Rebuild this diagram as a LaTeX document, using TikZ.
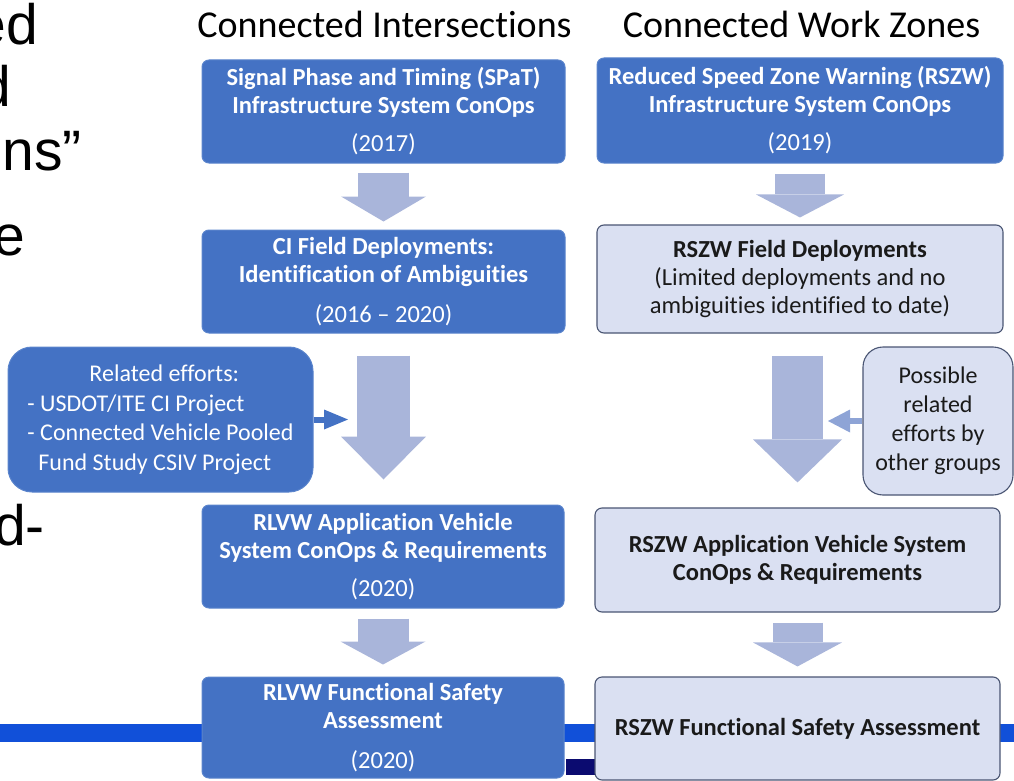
\documentclass[tikz,border=0pt]{standalone}
\usepackage{fontspec}
\setmainfont{Carlito}[Ligatures={NoCommon}]
\newfontfamily\arialf{Liberation Sans}
\usetikzlibrary{arrows.meta}
\definecolor{dkfill}{HTML}{4472C4}
\definecolor{dkedge}{HTML}{5A84CC}
\definecolor{ltfill}{HTML}{DAE0F2}
\definecolor{ltedge}{HTML}{4A5573}
\definecolor{arrowc}{HTML}{A9B5DA}
\definecolor{sidearr}{HTML}{8EA4D6}
\definecolor{barblue}{HTML}{1150D9}
\definecolor{navybar}{HTML}{0B0B70}
\definecolor{txtdark}{HTML}{1A1A1A}
\begin{document}
\begin{tikzpicture}[x=1pt,y=-1pt,
  dkbox/.style={fill=dkfill, draw=dkedge, line width=1pt, rounded corners=7pt,
    text=white, align=center, inner sep=0pt,
    font=\fontsize{24.5}{28}\selectfont},
  ltbox/.style={fill=ltfill, draw=ltedge, line width=1.1pt, rounded corners=7pt,
    text=txtdark, align=center, inner sep=0pt,
    font=\fontsize{24.5}{28}\selectfont},
  header/.style={font=\fontsize{38}{40}\selectfont, anchor=base, inner sep=0pt},
  bigtxt/.style={font=\arialf\fontsize{57}{60}\selectfont, anchor=base east, inner sep=0pt},
  blockarr/.style={draw=arrowc, line cap=butt},
]
\useasboundingbox (0,0) rectangle (1014,781);
\clip (0,0) rectangle (1014,781);

% background bars
\fill[barblue] (0,724) rectangle (1014,742);
\fill[navybar] (566,759) rectangle (600,775);

% cropped slide text at left
\node[bigtxt] (t1) at (38,45) {ed};
\node[bigtxt] (t2) at (11,107) {d};
\node[bigtxt] (t3) at (82,170) {ns”};
\node[bigtxt] (t4) at (25,255) {e};
\node[bigtxt] (t5) at (45,545) {d-};

% headers
\node[header] (h1) at (384.5,38) {Connected Intersections};
\node[header] (h2) at (801.5,38) {Connected Work Zones};

% left column
\node[dkbox, minimum width=363pt, minimum height=103pt] (A1) at (383.5,111.5)
  {\textbf{Signal Phase and Timing (SPaT)}\\\textbf{Infrastructure System ConOps}\\[10pt](2017)};
\node[dkbox, minimum width=363pt, minimum height=103pt] (A2) at (383.5,281.5)
  {\textbf{CI Field Deployments:}\\\textbf{Identification of Ambiguities}\\[12pt](2016 – 2020)};
\node[dkbox, minimum width=362pt, minimum height=103pt] (A3) at (383,556.5)
  {\textbf{RLVW Application Vehicle}\\\textbf{System ConOps \& Requirements}\\[10pt](2020)};
\node[dkbox, minimum width=362pt, minimum height=101pt] (A4) at (383,727.5)
  {\textbf{RLVW Functional Safety}\\\textbf{Assessment}\\[12pt](2020)};

% right column
\node[dkbox, minimum width=406pt, minimum height=105pt] (B1) at (800,110.5)
  {\textbf{Reduced Speed Zone Warning (RSZW)}\\\textbf{Infrastructure System ConOps}\\[10pt](2019)};
\node[ltbox, minimum width=406pt, minimum height=108pt] (B2) at (800,279)
  {\textbf{RSZW Field Deployments}\\(Limited deployments and no\\ambiguities identified to date)};
\node[ltbox, minimum width=405pt, minimum height=104pt] (B3) at (797.5,560)
  {\textbf{RSZW Application Vehicle System}\\\textbf{ConOps \& Requirements}};
\node[ltbox, minimum width=405pt, minimum height=103pt] (B4) at (797.5,728.5)
  {\textbf{RSZW Functional Safety Assessment}};

% side boxes
\node[dkbox, rounded corners=24pt, minimum width=305pt, minimum height=145pt, align=left,
  font=\fontsize{24}{29.5}\selectfont] (rel) at (160.5,419.5)
  {\hspace*{62pt}Related efforts:\\- USDOT/ITE CI Project\\- Connected Vehicle Pooled\\\hspace*{11pt}Fund Study CSIV Project};
\node[ltbox, rounded corners=20pt, minimum width=150pt, minimum height=148pt,
  font=\fontsize{24}{29}\selectfont] (poss) at (938,421)
  {Possible\\related\\efforts by\\other groups};

% block arrows
\draw[blockarr, line width=51pt, -{Triangle[width=85pt,length=25pt,line width=0pt]}]
  ([yshift=-9pt]A1.south) -- ([yshift=8pt]A2.north);
\draw[blockarr, line width=53pt, -{Triangle[width=85pt,length=43pt,line width=0pt]}]
  ([yshift=-22pt]A2.south) -- ([yshift=25pt]A2.south |- A3.north);
\draw[blockarr, line width=51pt, -{Triangle[width=85pt,length=23pt,line width=0pt]}]
  ([yshift=-10pt]A3.south) -- ([yshift=12pt]A4.north);
\draw[blockarr, line width=50pt, -{Triangle[width=88pt,length=23pt,line width=0pt]}]
  ([yshift=-10pt]B1.south) -- ([yshift=7pt]B2.north);
\draw[blockarr, line width=51pt, -{Triangle[width=89pt,length=43pt,line width=0pt]}]
  ([xshift=-2.5pt,yshift=-22pt]B2.south) -- ([yshift=25pt]B3.north);
\draw[blockarr, line width=50pt, -{Triangle[width=89pt,length=24pt,line width=0pt]}]
  ([yshift=-10pt]B3.south) -- ([yshift=10pt]B4.north);

% side arrows
\coordinate (relT) at (348,419.5);
\coordinate (possT) at (828,421);
\draw[draw=dkfill, line width=6pt, -{Triangle[width=20pt,length=24pt,line width=0pt]}]
  (rel.east) -- (relT);
\draw[draw=sidearr, line width=6pt, -{Triangle[width=23pt,length=22pt,line width=0pt]}]
  (poss.west) -- (possT);
\end{tikzpicture}
\end{document}
